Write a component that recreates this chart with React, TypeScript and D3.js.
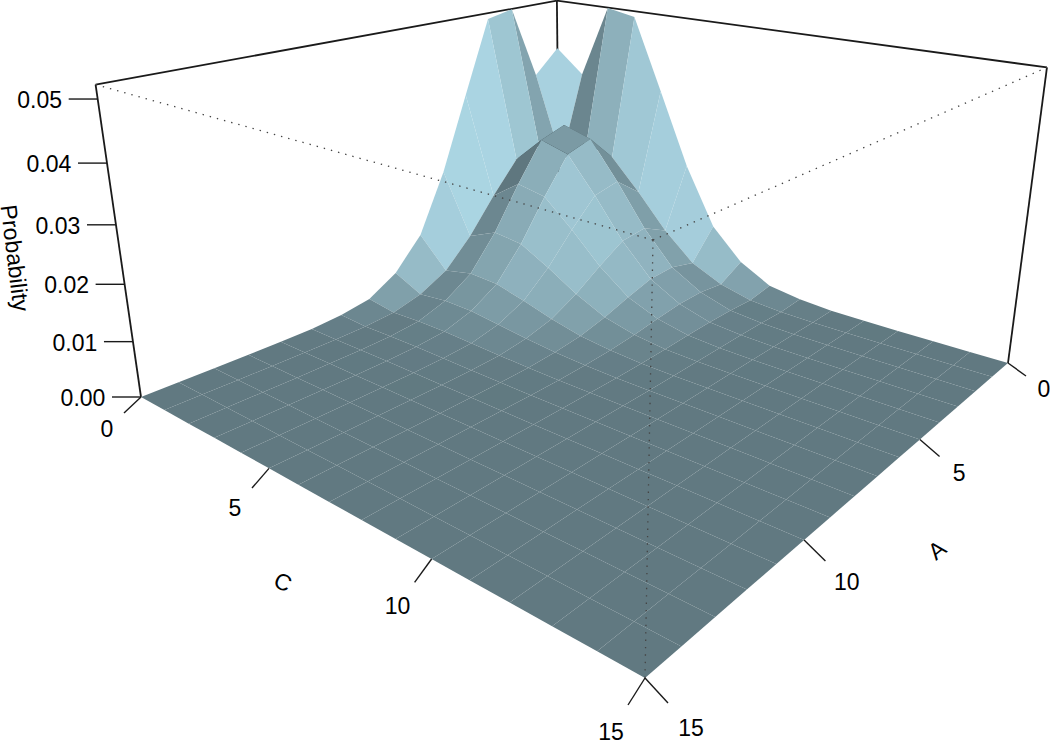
import * as d3 from 'd3';

const WIDTH = 1050;
const HEIGHT = 741;

// grid values on both floor axes
const cValues = d3.range(0, 16);
const aValues = d3.range(0, 16);

// probability, rows are C = 0..15, columns A = 0..15
const row0 = [0.04207, 0.03738, 0.0521, 0.05105, 0.0368, 0.02239, 0.01096, 0.00496, 0.00167, 0.00063, 0.00016, 0.00005, 0, 0, 0, 0];
const row1 = [0.03738, 0.02007, 0.02463, 0.02324, 0.01715, 0.01042, 0.00511, 0.0023, 0.00078, 0.00029, 0.0001, 0.00003, 0, 0, 0, 0];
const row2 = [0.0521, 0.02463, 0.03023, 0.02852, 0.02105, 0.01279, 0.00628, 0.00282, 0.00095, 0.00036, 0.00012, 0.00004, 0, 0, 0, 0];
const row3 = [0.05105, 0.02324, 0.02852, 0.02691, 0.01986, 0.01207, 0.00592, 0.00266, 0.0009, 0.00034, 0.00011, 0.00004, 0, 0, 0, 0];
const row4 = [0.0368, 0.01715, 0.02105, 0.01986, 0.01466, 0.00891, 0.00437, 0.00196, 0.00066, 0.00025, 0.00008, 0.00003, 0, 0, 0, 0];
const row5 = [0.02239, 0.01042, 0.01279, 0.01207, 0.00891, 0.00541, 0.00266, 0.00119, 0.0004, 0.00015, 0.00005, 0.00002, 0, 0, 0, 0];
const row6 = [0.01096, 0.00511, 0.00628, 0.00592, 0.00437, 0.00266, 0.0013, 0.00059, 0.0002, 0.00007, 0.00002, 0.00001, 0, 0, 0, 0];
const row7 = [0.00496, 0.0023, 0.00282, 0.00266, 0.00196, 0.00119, 0.00059, 0.00026, 0.00009, 0.00003, 0.00001, 0, 0, 0, 0, 0];
const row8 = [0.00167, 0.00078, 0.00095, 0.0009, 0.00066, 0.0004, 0.0002, 0.00009, 0.00003, 0.00001, 0, 0, 0, 0, 0, 0];
const row9 = [0.00063, 0.00029, 0.00036, 0.00034, 0.00025, 0.00015, 0.00007, 0.00003, 0.00001, 0, 0, 0, 0, 0, 0, 0];
const row10 = [0.00016, 0.0001, 0.00012, 0.00011, 0.00008, 0.00005, 0.00002, 0.00001, 0, 0, 0, 0, 0, 0, 0, 0];
const row11 = [0.00005, 0.00003, 0.00004, 0.00004, 0.00003, 0.00002, 0.00001, 0, 0, 0, 0, 0, 0, 0, 0, 0];
const rowZero = [0, 0, 0, 0, 0, 0, 0, 0, 0, 0, 0, 0, 0, 0, 0, 0];
const probability = [row0, row1, row2, row3, row4, row5, row6, row7, row8, row9, row10, row11, rowZero, rowZero, rowZero, rowZero];

const floorTicks = [0, 5, 10, 15];
const zTicks = [0, 0.01, 0.02, 0.03, 0.04, 0.05];
const Z_TOP = 0.0522;

// box scales: u runs from the C=15 side to C=0, v from A=15 to A=0, t goes up
const uScale = d3.scaleLinear().domain([15, 0]).range([0, 1]);
const vScale = d3.scaleLinear().domain([15, 0]).range([0, 1]);
const tScale = d3.scaleLinear().domain([0, Z_TOP]).range([0, 1]);

// screen position of the front corner and its three box neighbours, perspective weights
const O = [645, 678];
const L = [141, 397];
const R = [1008, 363];
const T = [653, 240];
const wL = 1.4687;
const wR = 1.5602;
const wT = 0.866;

const project = (c: number, a: number, z: number): [number, number] => {
  const u = uScale(c);
  const v = vScale(a);
  const t = tScale(z);
  const px = O[0] + u * (wL * L[0] - O[0]) + v * (wR * R[0] - O[0]) + t * (wT * T[0] - O[0]);
  const py = O[1] + u * (wL * L[1] - O[1]) + v * (wR * R[1] - O[1]) + t * (wT * T[1] - O[1]);
  const w = 1 + u * (wL - 1) + v * (wR - 1) + t * (wT - 1);
  return [px / w, py / w];
};

// tick vectors on screen, they widen toward the front corner
const cTickX = d3.scaleLinear().domain([0, 15]).range([-17, -17]);
const cTickY = d3.scaleLinear().domain([0, 15]).range([16, 27]);
const aTickX = d3.scaleLinear().domain([0, 15]).range([18, 23]);
const aTickY = d3.scaleLinear().domain([0, 15]).range([13, 25]);

// persp style facet shading, z is flattened a bit in the normals
const BASE = d3.rgb('#add8e6');
const LIGHT = [0.8, 0.58, 0.12];
const NORMAL_Z = 0.5;

const facetColor = (c: number, a: number) => {
  const z = (i: number, j: number) => tScale(probability[i][j]);
  const dC = ((z(c + 1, a) - z(c, a) + z(c + 1, a + 1) - z(c, a + 1)) / 2) * 15 * NORMAL_Z;
  const dA = ((z(c, a + 1) - z(c, a) + z(c + 1, a + 1) - z(c + 1, a)) / 2) * 15 * NORMAL_Z;
  const len = Math.hypot(dC, dA, 1);
  const dot = (-dC * LIGHT[0] - dA * LIGHT[1] + LIGHT[2]) / len;
  const shade = (1 + dot) / 2;
  return d3.rgb(BASE.r * shade, BASE.g * shade, BASE.b * shade).formatHex();
};

const facets: { key: string; d: string; fill: string }[] = [];
cValues.slice(0, -1).forEach((c) => {
  aValues.slice(0, -1).forEach((a) => {
    const corners: [number, number, number][] = [
      [c, a, probability[c][a]],
      [c + 1, a, probability[c + 1][a]],
      [c + 1, a + 1, probability[c + 1][a + 1]],
      [c, a + 1, probability[c][a + 1]],
    ];
    const path = d3.line()(corners.map((p) => project(p[0], p[1], p[2]))) + 'Z';
    facets.push({ key: `${c}-${a}`, d: path, fill: facetColor(c, a) });
  });
});

const seg = (p: [number, number], q: [number, number]) => d3.line()([p, q]) as string;
const shift = (p: [number, number], dx: number, dy: number): [number, number] => [p[0] + dx, p[1] + dy];

const FONT = 'Liberation Sans, Arial, sans-serif';
const FS = 23;

export default function App() {
  const backTop = project(0, 0, Z_TOP);
  const backBottom = project(0, 0, 0);
  const leftTop = project(0, 15, Z_TOP);
  const leftBottom = project(0, 15, 0);
  const rightTop = project(15, 0, Z_TOP);
  const rightBottom = project(15, 0, 0);
  const frontTop = project(15, 15, Z_TOP);
  const frontBottom = project(15, 15, 0);

  return (
    <svg
      width={WIDTH}
      height={HEIGHT}
      style={{ position: 'absolute', left: 0, top: 0, background: '#fff' }}
      fontFamily={FONT}
      fontSize={FS}
    >
      <g fill="none" stroke="#1a1a1a" strokeWidth={1.8}>
        <path d={seg(leftTop, backTop)} />
        <path d={seg(rightTop, backTop)} />
        <path d={seg(backTop, backBottom)} />
        <path d={seg(leftTop, leftBottom)} />
        <path d={seg(rightTop, rightBottom)} />
      </g>

      <g>
        {facets.map((f) => (
          <path key={f.key} d={f.d} fill={f.fill} />
        ))}
      </g>

      <g fill="none" stroke="#444" strokeWidth={1.3} strokeDasharray="1.4 6">
        <path d={seg(frontTop, leftTop)} />
        <path d={seg(frontTop, rightTop)} />
        <path d={seg(frontTop, frontBottom)} />
      </g>

      <g stroke="#1a1a1a" strokeWidth={1.4}>
        {floorTicks.map((v) => {
          const p = project(v, 15, 0);
          return <path key={`c${v}`} d={seg(p, shift(p, cTickX(v), cTickY(v)))} />;
        })}
        {floorTicks.map((v) => {
          const p = project(15, v, 0);
          return <path key={`a${v}`} d={seg(p, shift(p, aTickX(v), aTickY(v)))} />;
        })}
        {zTicks.map((v) => {
          const p = project(0, 15, v);
          return <path key={`z${v}`} d={seg(p, shift(p, -29, 0))} />;
        })}
      </g>

      <g textAnchor="middle" dominantBaseline="central" fill="#000">
        {floorTicks.map((v) => {
          const p = shift(project(v, 15, 0), 2 * cTickX(v), 2 * cTickY(v));
          return (
            <text key={`cl${v}`} x={p[0]} y={p[1]}>
              {v}
            </text>
          );
        })}
        {floorTicks.map((v) => {
          const p = shift(project(15, v, 0), 2 * aTickX(v), 2 * aTickY(v));
          return (
            <text key={`al${v}`} x={p[0]} y={p[1]}>
              {v}
            </text>
          );
        })}
        {zTicks.map((v) => {
          const p = shift(project(0, 15, v), -58, 1);
          return (
            <text key={`zl${v}`} x={p[0]} y={p[1]}>
              {v.toFixed(2)}
            </text>
          );
        })}
        <text transform="translate(15,258) rotate(83)">Probability</text>
        <text transform="translate(283,582) rotate(25)">C</text>
        <text transform="translate(937,550) rotate(-39)">A</text>
      </g>
    </svg>
  );
}
